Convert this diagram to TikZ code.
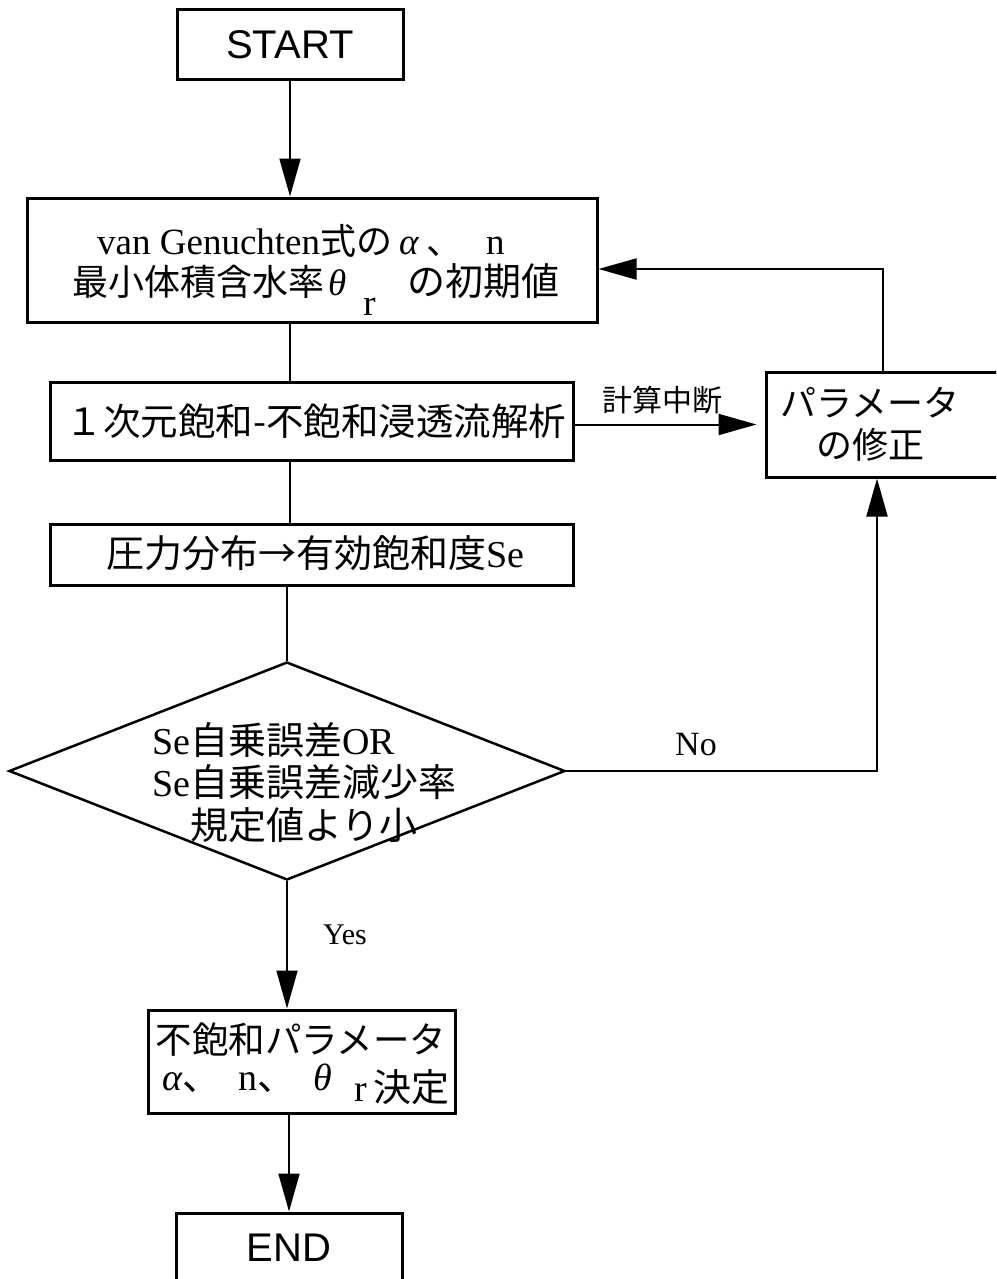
\documentclass[tikz,border=0pt]{standalone}
\usepackage{fontspec}
\setmainfont{Liberation Serif}
\newfontfamily\jp{Noto Sans CJK JP}
\newfontfamily\hv{Liberation Sans}
\usetikzlibrary{shapes.geometric,arrows.meta,calc}
\newcommand\J[1]{{\jp #1}}
\newcommand\fs[1]{\fontsize{#1}{#1}\selectfont}
\begin{document}
\begin{tikzpicture}[x=1pt,y=-1pt,
  box/.style={draw,line width=3pt,inner sep=0pt},
  conn/.style={line width=2pt},
  arr/.style={conn,-{Triangle[length=38pt,width=21pt]}},
  txt/.style={inner sep=0pt,font=\fs{38}},
]
\useasboundingbox (0,0) rectangle (996,1279);
\clip (0,0) rectangle (996,1279);

% boxes
\node[box,minimum width=226pt,minimum height=70pt,font=\hv\fs{40}] (start) at (290,45) {START};
\node[box,minimum width=570pt,minimum height=124pt] (init) at (312,260) {};
\node[box,minimum width=523pt,minimum height=78pt] (sim) at (311.5,421) {};
\node[box,minimum width=523pt,minimum height=61pt] (press) at (311.5,554.5) {};
\node[box,minimum width=234pt,minimum height=105pt] (param) at (883,424.5) {};
\node[draw,line width=2.5pt,shape=diamond,minimum width=556pt,minimum height=218pt,inner sep=0pt] (dec) at (287,771) {};
\node[box,minimum width=307pt,minimum height=103pt] (fin) at (301.5,1061.5) {};
\node[box,minimum width=226pt,minimum height=70pt,font=\hv\fs{40}] (end) at (289,1248) {END};

% texts
\node[txt,font=\fs{37},anchor=base west] (init1) at (97,254) {van Genuchten{\jp\fs{36}式の}\hspace{7pt}\textit{α}\hspace{7pt}{\jp\fs{36}、}\hspace{24pt}n};
\node[txt,font=\fs{37},anchor=base west] (init2) at (72,295) {{\jp\fs{36}最小体積含水率}\hspace{4pt}\textit{θ}\hspace{17pt}\raisebox{-20pt}{r}\hspace{32pt}{\jp\fs{38}の初期値}};
\node[txt,font=\jp\fs{37.5}] (simt) at (316,421) {１次元飽和-不飽和浸透流解析};
\node[txt] (presst) at (315,553) {\J{圧力分布→有効飽和度}Se};
\node[txt,font=\jp\fontsize{36}{42}\selectfont,align=center] (paramt) at (870,424) {パラメータ\\の修正};
\node[inner sep=0pt,font=\jp\fs{30}] (stop) at (662,400) {計算中断};
\node[txt,anchor=west] (dect1) at (152,740) {Se\J{自乗誤差}OR};
\node[txt,anchor=west] (dect2) at (152,782) {Se\J{自乗誤差減少率}};
\node[txt,anchor=west] (dect3) at (190,825) {\J{規定値より小}};
\node[inner sep=0pt,font=\fs{34}] (no) at (696,745) {No};
\node[inner sep=0pt,font=\fs{30}] (yes) at (345,935) {Yes};
\node[txt,font=\jp\fs{36.5}] (fin1) at (301,1040) {不飽和パラメータ};
\node[txt,anchor=base west] (fin2) at (162,1090) {\textit{α}\J{、}\hspace{18pt}n\J{、}\hspace{18pt}\textit{θ}\hspace{22pt}\raisebox{-11pt}{r\hspace{6pt}\J{決定}}};

% connectors
\coordinate (back) at (883,269);
\draw[arr] (start.south) -- (start.south |- init.north);
\draw[conn] (init.south -| start.south) -- (sim.north -| start.south);
\draw[conn] (sim.south -| start.south) -- (press.north -| start.south);
\draw[conn] (press.south -| dec.north) -- (dec.north);
\draw[arr] (dec.south) -- (dec.south |- fin.north);
\draw[arr] (fin.south -| end.north) -- (end.north);
\draw[arr,shorten >=8pt] (sim.east |- param.west) -- (param.west);
\draw[arr] (param.north) -- (back) -- (back -| init.east);
\draw[arr] (dec.east) -| ([xshift=-6pt]param.south);
\end{tikzpicture}
\end{document}
